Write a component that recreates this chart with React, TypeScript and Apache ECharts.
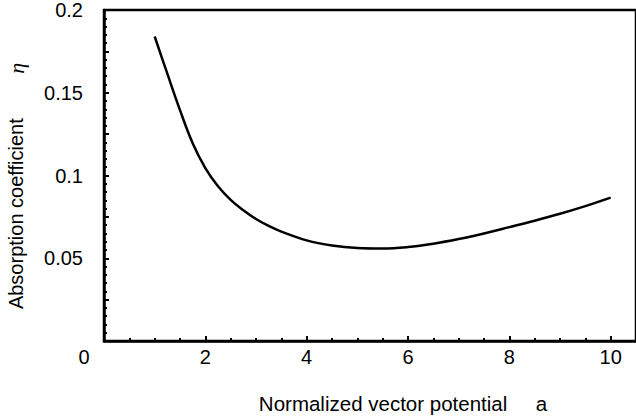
import React, { useEffect, useRef } from "react";
import * as echarts from "echarts";

const aValues = [1, 1.25, 1.5, 1.75, 2, 2.25, 2.5, 2.75, 3, 3.25, 3.5, 4, 4.5, 5, 5.5, 6, 6.5, 7, 7.5, 8, 8.5, 9, 9.5, 10];
const etaValues = [0.184, 0.1615, 0.1395, 0.1195, 0.1045, 0.0935, 0.0853, 0.079, 0.0737, 0.0695, 0.0661, 0.0608, 0.0577, 0.0562, 0.0559, 0.0568, 0.0588, 0.0616, 0.065, 0.0688, 0.0727, 0.0769, 0.0815, 0.0866];
const xTickLabels = ["2", "4", "6", "8", "10"];
const yTickLabels = ["0.05", "0.1", "0.15", "0.2"];
const originLabel = "0";
const xTitle = "Normalized vector potential     a";
const yTitle = "Absorption coefficient        ";
const yTitleSymbol = "η";

const FONT = "'Liberation Sans', Arial, sans-serif";

export default function App() {
  const ref = useRef<HTMLDivElement>(null);
  useEffect(() => {
    if (!ref.current) return;
    const chart = echarts.init(ref.current, null, { renderer: "svg" });
    const data = aValues.map((a, i) => [a, etaValues[i]]);
    chart.setOption({
      animation: false,
      backgroundColor: "#fff",
      grid: {
        left: 104,
        top: 10,
        bottom: 76,
        right: -2.5,
        show: true,
        borderColor: "#000",
        borderWidth: 2.5,
        backgroundColor: "transparent",
      },
      xAxis: {
        type: "value",
        min: 0,
        max: 10.5,
        interval: 2,
        axisLine: { show: true, lineStyle: { color: "#000", width: 2.5 } },
        axisTick: { show: true, inside: true, length: 5, lineStyle: { color: "#000", width: 2 } },
        minorTick: { show: true, splitNumber: 4, length: 3, lineStyle: { color: "#000", width: 2 } },
        splitLine: { show: false },
        axisLabel: {
          color: "#000",
          fontSize: 20,
          fontFamily: FONT,
          margin: 6,
          showMaxLabel: false,
          formatter: (v: number) => {
            const s = String(Math.round(v * 100) / 100);
            return xTickLabels.includes(s) ? s : "";
          },
        },
      },
      yAxis: {
        type: "value",
        min: 0,
        max: 0.2,
        interval: 0.025,
        axisLine: { show: true, lineStyle: { color: "#000", width: 2.5 } },
        axisTick: { show: true, inside: true, length: 5, lineStyle: { color: "#000", width: 2 } },
        minorTick: { show: true, splitNumber: 5, length: 3, lineStyle: { color: "#000", width: 2 } },
        splitLine: { show: false },
        axisLabel: {
          color: "#000",
          fontSize: 20,
          fontFamily: FONT,
          margin: 21,
          formatter: (v: number) => {
            const s = String(Math.round(v * 1000) / 1000);
            return yTickLabels.includes(s) ? s : "";
          },
        },
      },
      graphic: [
        {
          type: "text",
          x: 84,
          y: 357,
          style: {
            text: originLabel,
            fontSize: 20,
            fontFamily: FONT,
            fill: "#000",
            align: "center",
            verticalAlign: "middle",
          },
        },
        {
          type: "text",
          x: 403,
          y: 403,
          style: {
            text: xTitle,
            fontSize: 20.5,
            fontFamily: FONT,
            fill: "#000",
            align: "center",
            verticalAlign: "middle",
          },
        },
        {
          type: "text",
          x: 16,
          y: 186,
          rotation: Math.PI / 2,
          style: {
            text: yTitle + "{e|" + yTitleSymbol + "}",
            fontSize: 20,
            fontFamily: FONT,
            fill: "#000",
            align: "center",
            verticalAlign: "middle",
            rich: {
              e: { fontSize: 22, fontFamily: "'Liberation Serif', serif", fontStyle: "italic", fill: "#000" },
            },
          },
        },
      ],
      series: [
        {
          type: "line",
          data,
          smooth: 0.4,
          symbol: "none",
          lineStyle: { color: "#000", width: 2.5 },
        },
      ],
    });
    return () => chart.dispose();
  }, []);
  return (
    <div
      ref={ref}
      style={{ position: "absolute", left: 0, top: 0, width: 636, height: 417 }}
    />
  );
}
